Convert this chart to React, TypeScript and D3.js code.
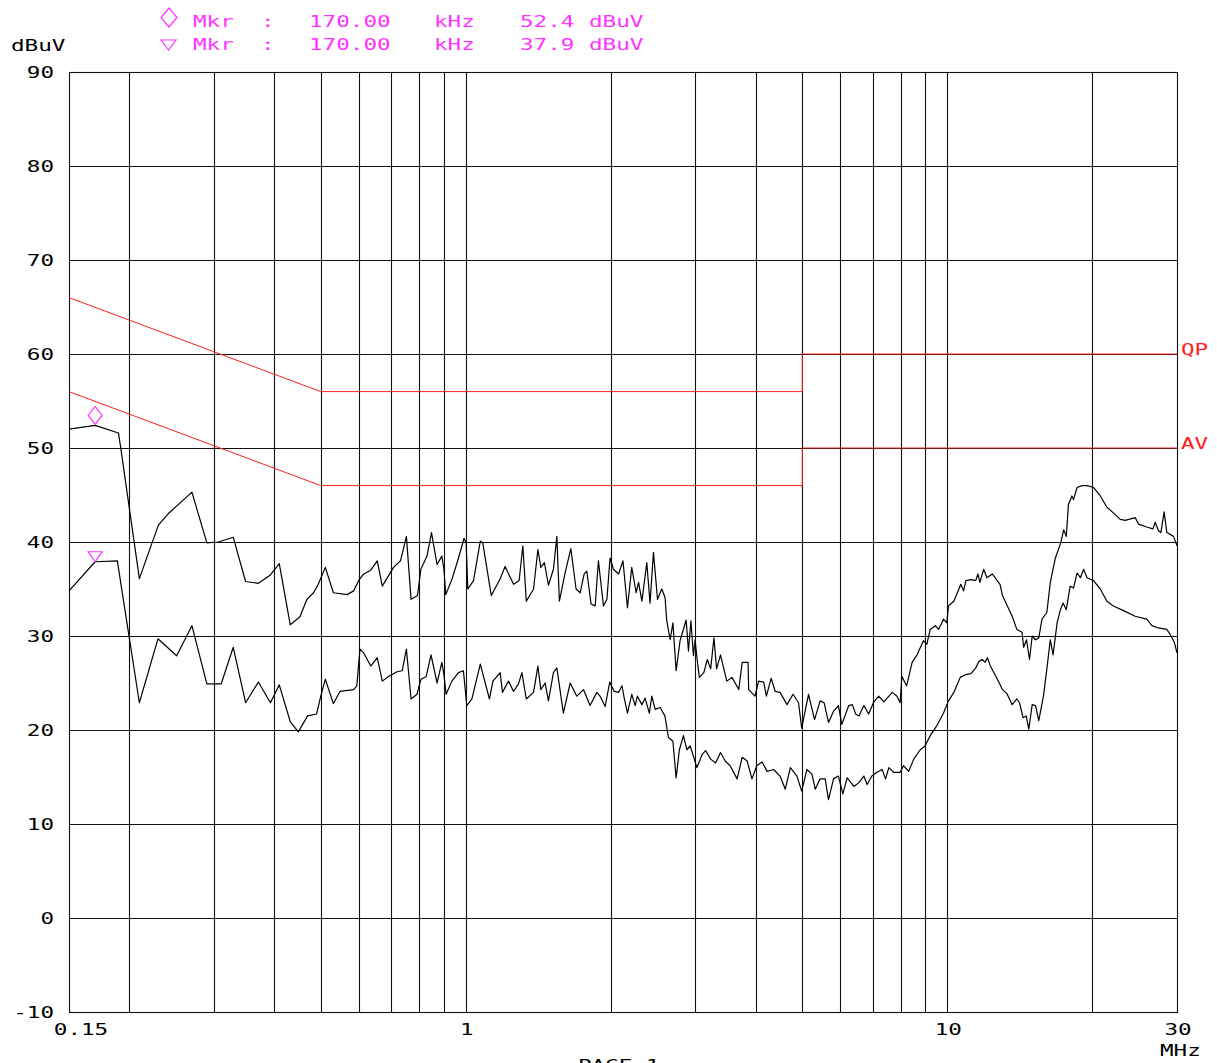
import * as d3 from "d3";

// receiver sweep (MHz / dBuV)
const peakMHz = [
  0.15, 0.17, 0.19, 0.192, 0.21, 0.23, 0.241, 0.27, 0.29, 0.3065, 0.329, 0.349, 0.371, 0.393, 0.41, 0.432,
  0.447, 0.453, 0.468, 0.483, 0.494, 0.511, 0.531, 0.567, 0.585, 0.601, 0.614, 0.635, 0.655, 0.671, 0.691,
  0.708, 0.732, 0.753, 0.77, 0.794, 0.807, 0.831, 0.849, 0.872, 0.892, 0.901, 0.909, 0.936, 0.966, 0.992,
  1.002, 1.01, 1.038, 1.072, 1.085, 1.13, 1.179, 1.207, 1.257, 1.291, 1.314, 1.336, 1.383, 1.412, 1.432,
  1.457, 1.485, 1.521, 1.546, 1.565, 1.608, 1.653, 1.695, 1.728, 1.762, 1.784, 1.821, 1.857, 1.886, 1.932,
  1.964, 1.994, 2.027, 2.077, 2.121, 2.167, 2.212, 2.259, 2.285, 2.322, 2.377, 2.414, 2.454, 2.502, 2.554,
  2.594, 2.615, 2.658, 2.693, 2.735, 2.787, 2.869, 2.901, 2.935, 2.971, 2.994, 3.029, 3.056, 3.122, 3.175,
  3.226, 3.277, 3.319, 3.381, 3.485, 3.572, 3.69, 3.751, 3.858, 3.869, 3.989, 4.055, 4.157, 4.211, 4.307,
  4.394, 4.496, 4.647, 4.783, 4.91, 4.986, 5.151, 5.302, 5.445, 5.549, 5.668, 5.805, 5.942, 6.04, 6.245,
  6.351, 6.453, 6.556, 6.711, 6.866, 7.025, 7.204, 7.384, 7.685, 7.864, 7.982, 8.049, 8.235, 8.453, 8.656,
  8.923, 9.068, 9.218, 9.445, 9.595, 9.823, 9.977, 10.06, 10.32, 10.67, 10.81, 10.93, 11.2, 11.46, 11.58,
  11.69, 11.9, 12.09, 12.4, 12.87, 13.02, 13.33, 13.64, 13.95, 14.3, 14.41, 14.61, 14.82, 15.01, 15.25,
  15.49, 15.73, 16.1, 16.37, 16.77, 17.18, 17.45, 17.67, 17.85, 18.15, 18.29, 18.6, 19.05, 19.51, 20.12,
  20.79, 21.46, 22.13, 22.87, 23.42, 24.56, 24.96, 25.96, 26.74, 27.03, 27.46, 27.77, 28.21, 28.58, 29.5, 30,
];
const peakDb = [
  52.0, 52.4, 51.6, 50.1, 36.1, 41.8, 43.0, 45.3, 39.9, 40.0, 40.5, 35.8, 35.6, 36.5, 37.7, 31.2,
  31.8, 32.1, 33.9, 34.6, 35.5, 37.3, 34.6, 34.4, 34.8, 36.0, 36.6, 37.0, 38.0, 35.3, 36.4,
  37.3, 38.0, 40.6, 33.9, 34.3, 37.1, 38.5, 41.0, 37.6, 38.5, 37.1, 34.4, 36.0, 38.3, 40.4,
  39.9, 35.0, 35.9, 40.1, 39.9, 34.3, 36.1, 37.4, 35.5, 35.9, 39.6, 33.7, 35.0, 39.2, 37.3,
  37.8, 35.4, 37.1, 40.6, 33.7, 36.7, 39.3, 35.0, 34.6, 36.6, 36.9, 33.4, 33.2, 38.0, 33.2,
  33.9, 38.3, 37.1, 36.6, 38.0, 33.0, 37.3, 34.6, 35.7, 33.7, 37.8, 33.5, 38.9, 33.9, 35.0,
  34.1, 31.6, 29.6, 31.4, 26.3, 29.5, 31.7, 28.4, 31.6, 27.9, 29.6, 27.2, 25.6, 26.1, 27.5,
  26.5, 29.8, 26.5, 28.0, 25.2, 25.6, 24.3, 27.2, 27.2, 24.3, 23.6, 25.2, 25.1, 23.6, 25.5,
  24.1, 24.0, 22.7, 23.8, 22.9, 20.2, 23.8, 21.1, 23.1, 22.9, 20.8, 22.0, 22.6, 20.6, 22.6,
  22.7, 21.7, 21.5, 22.6, 21.7, 22.9, 23.6, 23.0, 24.0, 23.6, 22.9, 25.7, 24.7, 27.2, 28.0,
  29.5, 29.1, 30.7, 31.1, 30.7, 31.8, 31.4, 33.2, 33.7, 35.5, 34.8, 35.9, 36.0, 35.9, 36.6,
  35.7, 37.1, 36.2, 36.6, 35.5, 34.3, 33.2, 32.1, 30.7, 30.4, 28.8, 29.6, 27.5, 30.0, 29.6,
  29.8, 31.8, 32.5, 35.7, 38.3, 39.8, 41.3, 40.6, 44.0, 44.9, 44.5, 45.8, 46.0, 46.0, 45.8,
  44.9, 43.7, 43.1, 42.4, 42.3, 42.6, 41.9, 41.6, 41.4, 42.1, 41.2, 41.0, 43.2, 41.0, 40.6, 39.6,
];

const avgMHz = [
  0.15, 0.17, 0.189, 0.21, 0.2295, 0.251, 0.27, 0.29, 0.3105, 0.329, 0.349, 0.371, 0.393, 0.41, 0.432, 0.449,
  0.4695, 0.49, 0.5, 0.511, 0.531, 0.548, 0.585, 0.594, 0.603, 0.614, 0.635, 0.655, 0.671, 0.691, 0.72,
  0.738, 0.753, 0.77, 0.792, 0.807, 0.828, 0.847, 0.872, 0.892, 0.901, 0.9105, 0.936, 0.966, 0.989, 1.005,
  1.03, 1.072, 1.12, 1.139, 1.179, 1.192, 1.227, 1.257, 1.287, 1.308, 1.336, 1.383, 1.412, 1.432, 1.462,
  1.485, 1.521, 1.546, 1.595, 1.648, 1.701, 1.756, 1.812, 1.872, 1.901, 1.948, 1.991, 2.034, 2.077, 2.111,
  2.134, 2.167, 2.212, 2.248, 2.273, 2.322, 2.358, 2.406, 2.435, 2.474, 2.534, 2.592, 2.636, 2.693, 2.735,
  2.778, 2.832, 2.879, 2.925, 2.971, 3.02, 3.098, 3.149, 3.226, 3.303, 3.381, 3.458, 3.541, 3.661, 3.751,
  3.841, 3.93, 4.022, 4.124, 4.226, 4.36, 4.496, 4.609, 4.722, 4.873, 4.986, 5.111, 5.236, 5.319, 5.445,
  5.577, 5.668, 5.805, 5.942, 6.071, 6.196, 6.401, 6.556, 6.711, 6.817, 6.972, 7.147, 7.326, 7.444, 7.563,
  7.742, 7.982, 8.113, 8.316, 8.518, 8.789, 8.99, 9.218, 9.523, 9.823, 10.06, 10.32, 10.64, 10.93, 11.2,
  11.46, 11.64, 11.82, 11.99, 12.12, 12.29, 12.71, 13.02, 13.29, 13.64, 13.95, 14.13, 14.37, 14.59, 14.77,
  15.01, 15.25, 15.49, 15.84, 16.1, 16.37, 16.59, 16.91, 17.18, 17.4, 17.67, 18.0, 18.29, 18.6, 18.9,
  19.2, 19.51, 20.12, 20.79, 21.46, 22.13, 23.23, 24.56, 25.96, 26.61, 27.25, 28.58, 29.17, 29.63, 30,
];
const avgDb = [
  34.8, 37.9, 38.0, 22.9, 29.7, 27.9, 31.1, 24.9, 24.9, 28.8, 22.9, 25.1, 22.9, 24.8, 20.9, 19.8,
  21.5, 21.7, 23.6, 25.4, 22.8, 24.1, 24.3, 24.7, 28.6, 28.2, 26.8, 27.7, 25.2, 25.7, 26.2,
  26.3, 28.6, 23.3, 23.8, 25.4, 25.7, 28.0, 25.0, 27.2, 25.9, 23.8, 25.2, 26.1, 26.3, 22.6,
  23.3, 27.0, 23.3, 25.2, 26.1, 24.0, 25.2, 24.1, 24.9, 26.1, 23.3, 24.0, 26.8, 24.3, 25.0,
  23.1, 26.1, 26.6, 21.8, 25.0, 23.6, 24.3, 22.6, 24.0, 23.6, 22.5, 25.1, 24.1, 24.0, 24.7,
  23.4, 21.8, 23.8, 22.6, 23.6, 22.7, 23.4, 21.8, 23.6, 22.2, 22.4, 21.5, 19.2, 18.8, 14.9,
  17.9, 19.4, 17.9, 18.3, 17.2, 16.0, 17.4, 17.8, 16.9, 16.5, 17.6, 16.7, 16.2, 14.8, 17.1,
  16.7, 14.8, 16.2, 16.6, 15.6, 15.8, 15.1, 13.7, 16.0, 15.1, 13.5, 15.8, 15.3, 13.7, 14.8,
  14.8, 12.6, 14.8, 15.1, 13.2, 14.9, 14.0, 14.4, 15.1, 14.2, 15.1, 15.5, 15.8, 14.8, 16.0,
  15.5, 15.5, 16.2, 15.6, 16.9, 17.9, 18.3, 19.4, 20.5, 21.8, 23.1, 24.0, 25.6, 25.9, 26.0,
  26.6, 27.3, 27.5, 27.2, 27.7, 26.8, 25.4, 24.3, 23.9, 22.7, 23.3, 22.9, 21.3, 21.5, 20.1,
  22.7, 22.6, 21.0, 23.6, 26.5, 29.6, 28.0, 31.4, 32.8, 33.5, 32.8, 35.3, 35.1, 36.7, 36.2,
  37.1, 36.2, 35.9, 35.0, 33.7, 33.2, 32.7, 32.1, 31.8, 31.1, 30.9, 30.7, 30.0, 29.3, 28.2,
];

// EN 55022 class B limits
const qpMHz = [0.15, 0.5, 5, 5, 30];
const qpDb = [66, 56, 56, 60, 60];
const avMHz = [0.15, 0.5, 5, 5, 30];
const avDb = [56, 46, 46, 50, 50];

const yTicks = [90, 80, 70, 60, 50, 40, 30, 20, 10, 0, -10];
const gridMHz = [0.2, 0.3, 0.4, 0.5, 0.6, 0.7, 0.8, 0.9, 1, 2, 3, 4, 5, 6, 7, 8, 9, 10, 20];
const xLabels = ["0.15", "1", "10", "30"];
const xLabelMHz = [0.15, 1, 10, 30];

const markers = [
  { shape: "diamond", mhz: 0.17, db: 52.4, text: "52.4" },
  { shape: "triangle", mhz: 0.17, db: 37.9, text: "37.9" },
];

const W = 1217;
const H = 1063;
const LEFT = 69;
const RIGHT = 1177;
const TOP = 72;
const BOTTOM = 1012;

const FONT = "'DejaVu Sans Mono', 'Liberation Mono', monospace";
const ADV = 13.6; // plotter font advance per character
const MAGENTA = "#ff33ff";
const RED = "#ff2020";

function zip(f: number[], v: number[]) {
  return f.map((d, i) => [d, v[i]] as [number, number]);
}

function diamondPath(cx: number, bottom: number, hw: number, h: number) {
  return `M${cx},${bottom} L${cx - hw},${bottom - h / 2} L${cx},${bottom - h} L${cx + hw},${bottom - h / 2} Z`;
}

function trianglePath(cx: number, bottom: number, hw: number, h: number) {
  return `M${cx},${bottom} L${cx - hw},${bottom - h} L${cx + hw},${bottom - h} Z`;
}

function T({ x, y, s, fill = "#000", anchor = "start" }: any) {
  const str = String(s);
  return (
    <text
      x={x}
      y={y}
      fill={fill}
      textAnchor={anchor}
      fontFamily={FONT}
      fontSize={16}
      textLength={str.length * ADV}
      lengthAdjust="spacingAndGlyphs"
    >
      {str}
    </text>
  );
}

export default function App() {
  const x = d3.scaleLog().domain([0.15, 30]).range([LEFT, RIGHT]);
  const y = d3.scaleLinear().domain([-10, 90]).range([BOTTOM, TOP]);

  const line = d3
    .line<[number, number]>()
    .x((d) => x(d[0]))
    .y((d) => y(d[1]));

  const snap = (v: number) => Math.round(v) + 0.5;

  return (
    <svg
      width={W}
      height={H}
      style={{ position: "absolute", left: 0, top: 0, background: "#fff" }}
    >
      <rect width={W} height={H} fill="#fff" />

      {/* header */}
      <path d={diamondPath(169, 27, 8, 19)} fill="none" stroke={MAGENTA} strokeWidth={1.2} />
      <path d={trianglePath(168.5, 50, 7.5, 10)} fill="none" stroke={MAGENTA} strokeWidth={1.2} />
      {markers.map((m, i) => {
        const by = 27 + i * 23;
        return (
          <g key={i}>
            <T x={193} y={by} s="Mkr" fill={MAGENTA} />
            <T x={261} y={by} s=":" fill={MAGENTA} />
            <T x={309} y={by} s="170.00" fill={MAGENTA} />
            <T x={434} y={by} s="kHz" fill={MAGENTA} />
            <T x={520} y={by} s={m.text} fill={MAGENTA} />
            <T x={589} y={by} s="dBuV" fill={MAGENTA} />
          </g>
        );
      })}
      <T x={11} y={51} s="dBuV" />

      {/* grid */}
      <g stroke="#111" strokeWidth={1.1}>
        {yTicks.map((t) => (
          <line key={t} x1={LEFT} x2={RIGHT} y1={snap(y(t))} y2={snap(y(t))} />
        ))}
        {gridMHz.map((f) => (
          <line key={f} x1={snap(x(f))} x2={snap(x(f))} y1={TOP} y2={BOTTOM} />
        ))}
        <rect
          x={LEFT + 0.5}
          y={TOP + 0.5}
          width={RIGHT - LEFT}
          height={BOTTOM - TOP}
          fill="none"
        />
      </g>

      {/* y tick labels */}
      {yTicks.map((t) => (
        <T key={t} x={54} y={y(t) + 6} s={t} anchor="end" />
      ))}

      {/* x tick labels */}
      {xLabels.map((l, i) => {
        const cx = i === 0 ? 81 : x(xLabelMHz[i]) + 1;
        return <T key={l} x={cx} y={1035} s={l} anchor="middle" />;
      })}
      <T x={1160} y={1056} s="MHz" />
      <T x={578} y={1071} s="PAGE 1" />

      {/* limits */}
      <g fill="none" stroke={RED} strokeWidth={1}>
        <path d={line(zip(qpMHz, qpDb)) || ""} />
        <path d={line(zip(avMHz, avDb)) || ""} />
      </g>
      <T x={1181} y={y(60) + 1} s="QP" fill={RED} />
      <T x={1181} y={y(50) + 1} s="AV" fill={RED} />

      {/* traces */}
      <g fill="none" stroke="#000" strokeWidth={1.2} strokeLinejoin="round">
        <path d={line(zip(peakMHz, peakDb)) || ""} />
        <path d={line(zip(avgMHz, avgDb)) || ""} />
      </g>

      {/* markers on traces */}
      <path
        d={diamondPath(x(markers[0].mhz), y(markers[0].db) - 1, 7, 18)}
        fill="none"
        stroke={MAGENTA}
        strokeWidth={1.2}
      />
      <path
        d={trianglePath(x(markers[1].mhz), y(markers[1].db), 7, 10)}
        fill="none"
        stroke={MAGENTA}
        strokeWidth={1.2}
      />
    </svg>
  );
}
